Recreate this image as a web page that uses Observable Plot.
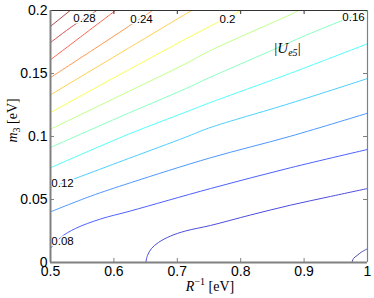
<!DOCTYPE html>
<html><head><meta charset="utf-8">
<script src="https://cdn.jsdelivr.net/npm/d3@7"></script>
<script src="https://cdn.jsdelivr.net/npm/@observablehq/plot@0.6"></script>
<style>body{margin:0;background:#fff}</style>
</head><body><div id="chart"></div>
<script>
// Contour levels (|U_e5|) and traced contour points [R^-1, m3]
const levels = [0.04,0.06,0.08,0.10,0.12,0.14,0.16,0.18,0.20,0.22,0.24,0.26,0.28,0.30];
const c004 = [[0.9755,0],[0.9779,0.0032],[0.9837,0.0056],[0.9905,0.0083],[1,0.0109]];
const c006 = [[0.6503,0],[0.653,0.0056],[0.6593,0.0111],[0.6703,0.0159],[0.6893,0.021],[0.7129,0.025],[0.7524,0.0294],[0.8155,0.0377],[0.8785,0.0455],[0.9416,0.0524],[1,0.0587]];
const c008 = [[0.5,0.0111],[0.5158,0.0198],[0.5394,0.027],[0.5789,0.0345],[0.6262,0.0409],[0.7524,0.0587],[0.8785,0.0752],[1,0.0897]];
const c010 = [[0.5,0.0402],[0.5631,0.0526],[0.6262,0.0633],[0.7524,0.0831],[0.8785,0.1002],[1,0.1185]];
const c012 = [[0.5,0.0593],[0.623,0.0825],[0.7129,0.0994],[0.7492,0.1066],[0.8785,0.1264],[1,0.146]];
const c014 = [[0.5,0.0752],[0.623,0.1018],[0.7129,0.1193],[0.7492,0.1264],[0.8785,0.1502],[1,0.1736]];
const c016 = [[0.5,0.0913],[0.623,0.1185],[0.7129,0.1379],[0.7492,0.1464],[0.847,0.1679],[0.9022,0.1802],[0.9606,0.1921],[1,0.1994]];
const c018 = [[0.5,0.1058],[0.623,0.1357],[0.7129,0.1577],[0.7492,0.1675],[0.8785,0.1968],[0.8912,0.2]];
const c020 = [[0.5,0.119],[0.623,0.1529],[0.7508,0.1873],[0.8013,0.2]];
const c022 = [[0.5,0.1331],[0.623,0.1701],[0.7129,0.1971],[0.7229,0.2]];
const c024 = [[0.5,0.1468],[0.5631,0.1675],[0.623,0.1873],[0.6609,0.2]];
const c026 = [[0.5,0.1609],[0.5505,0.1802],[0.6025,0.2]];
const c028 = [[0.5,0.1746],[0.536,0.188],[0.573,0.2]];
const c030 = [[0.5,0.1874],[0.531,0.2]];
const contourPts = [c004,c006,c008,c010,c012,c014,c016,c018,c020,c022,c024,c026,c028,c030];

// Inline contour labels
const labelText = ["0.28","0.24","0.2","0.16","0.12","0.08"];
const labelX = [0.5536,0.6435,0.7792,0.978,0.5189,0.5189];
const labelY = [0.1937,0.1933,0.1933,0.1947,0.0627,0.0167];

// Annotation
const noteText = ["|Ue5|"];
const noteX = [0.8738];
const noteY = [0.1698];

// Axis ticks and titles
const xTicks = [0.5,0.6,0.7,0.8,0.9,1];
const yTicks = [0,0.05,0.1,0.15,0.2];
const xTitle = "R-1 [eV]";
const yTitle = "m3 [eV]";

// ---- build tables ----
const rows = [];
levels.forEach((lv, i) => contourPts[i].forEach(([x, y]) => rows.push({level: lv, x, y})));
const labels = labelText.map((t, i) => ({t, x: labelX[i], y: labelY[i]}));
const notes = noteText.map((t, i) => ({t, x: noteX[i], y: noteY[i]}));

function jet(t) {
  const c = v => Math.max(0, Math.min(1, v));
  const r = c(1.5 - Math.abs(4*t - 3)), g = c(1.5 - Math.abs(4*t - 2)), b = c(1.5 - Math.abs(4*t - 1));
  const w = 0.3;
  const m = v => Math.round(255 * (v + (1 - v) * w));
  return `rgb(${m(r)},${m(g)},${m(b)})`;
}

const serif = "'Liberation Serif', 'DejaVu Serif', serif";
const axisGray = "#808080";
const fmt = d => String(d);

const plot = Plot.plot({
  width: 374, height: 298,
  marginLeft: 50, marginRight: 7, marginTop: 10, marginBottom: 36,
  style: {fontFamily: "'Liberation Sans', Arial, sans-serif", fontSize: "14px", background: "white", color: "black", overflow: "visible"},
  x: {domain: [0.5, 1], ticks: xTicks, label: null, tickFormat: fmt},
  y: {domain: [0, 0.2], ticks: yTicks, label: null, tickFormat: fmt},
  color: {type: "linear", domain: [0.04, 0.30], interpolate: jet},
  marks: [
    Plot.line(rows, {x: "x", y: "y", z: "level", stroke: "level", strokeWidth: 1, curve: "catmull-rom", clip: true}),
    Plot.text(labels, {x: "x", y: "y", text: "t", fontSize: 11.5, fill: "black", stroke: "white", strokeWidth: 3, paintOrder: "stroke"}),
    Plot.text(notes, {x: "x", y: "y", text: "t", fontSize: 15, fontFamily: serif, fill: "black"}),
    // inward ticks
    Plot.tickX(xTicks, {x: d => d, insetTop: 248, stroke: axisGray}),
    Plot.tickX(xTicks, {x: d => d, insetBottom: 248, stroke: "#333"}),
    Plot.tickY(yTicks, {y: d => d, insetRight: 313, stroke: axisGray}),
    Plot.tickY(yTicks, {y: d => d, insetLeft: 313, stroke: axisGray}),
    // box
    Plot.ruleY([0.2], {stroke: "#333", strokeWidth: 1}),
    Plot.ruleX([1], {stroke: axisGray, strokeWidth: 1.2}),
    Plot.ruleX([0.5], {stroke: axisGray, strokeWidth: 2}),
    Plot.ruleY([0], {stroke: axisGray, strokeWidth: 2}),
    Plot.axisX({tickSize: 0, tickPadding: 4, ticks: xTicks, tickFormat: fmt, label: null}),
    Plot.axisY({tickSize: 0, tickPadding: 3, ticks: yTicks, tickFormat: fmt, label: null}),
    Plot.text([xTitle], {frameAnchor: "bottom", dy: 28, dx: 1, fontFamily: serif, fontSize: 14}),
    Plot.text([yTitle], {frameAnchor: "left", rotate: -90, dx: -38, dy: 6, fontFamily: serif, fontSize: 14})
  ]
});
document.getElementById("chart").appendChild(plot);

// Rich-text formatting (italic, sub/superscripts)
const svg = d3.select(plot);
svg.selectAll("text").each(function() {
  const el = d3.select(this);
  const s = this.textContent;
  if (s === "|Ue5|") {
    el.text(null);
    el.append("tspan").text("|");
    el.append("tspan").attr("font-style", "italic").text("U");
    el.append("tspan").attr("font-style", "italic").attr("font-size", 10).attr("dy", 3).text("e5");
    el.append("tspan").attr("dy", -3).text("|");
  } else if (s === xTitle) {
    el.text(null);
    el.append("tspan").attr("font-style", "italic").text("R");
    el.append("tspan").attr("font-size", 10).attr("dy", -6).text("\u22121");
    el.append("tspan").attr("dy", 6).text(" [eV]");
  } else if (s === yTitle) {
    el.text(null);
    el.append("tspan").attr("font-style", "italic").text("m");
    el.append("tspan").attr("font-size", 10).attr("dy", 3).text("3");
    el.append("tspan").attr("dy", -3).text(" [eV]");
  }
});
</script>
</body></html>
